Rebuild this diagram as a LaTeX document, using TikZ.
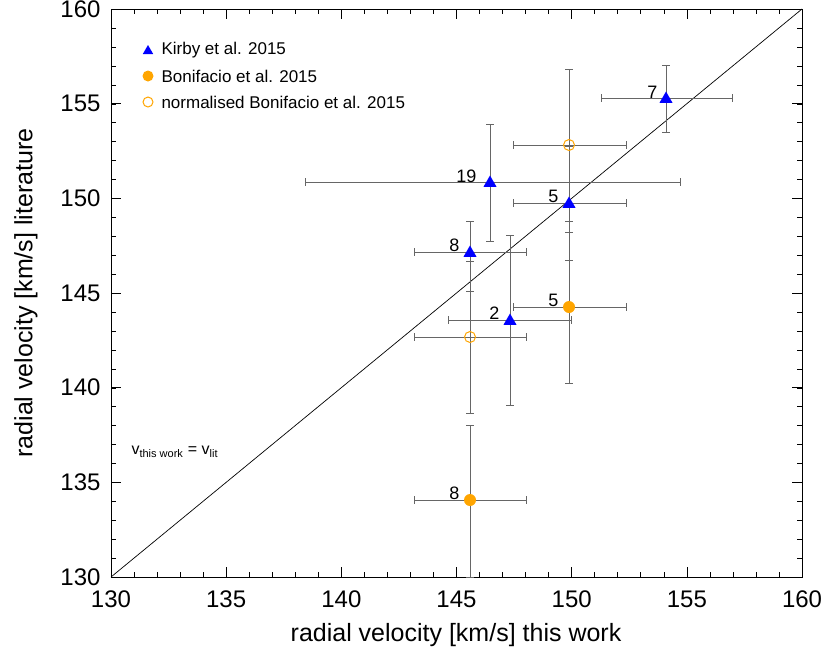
\documentclass[tikz,border=0pt]{standalone}
\usepackage{fontspec}
\setmainfont{Liberation Sans}
\usetikzlibrary{shapes.geometric}
\definecolor{orng}{RGB}{255,165,0}
\begin{document}
\begin{tikzpicture}[x=1pt,y=-1pt,
  eb/.style={draw=gray!80!black,line width=0.6pt},
  tri/.style={regular polygon,regular polygon sides=3,fill=blue,inner sep=0pt,minimum size=15pt},
  fdot/.style={circle,fill=orng,inner sep=0pt,minimum size=12pt},
  odot/.style={circle,draw=orng,line width=1pt,inner sep=0pt,minimum size=11pt},
  lab/.style={font=\fontsize{18}{18}\selectfont,anchor=east},
  tick/.style={font=\fontsize{24}{24}\selectfont}]
\useasboundingbox (0,0) rectangle (830,657);
\draw[line width=0.8pt] (111,9) rectangle (802,577);
% ticks
\foreach \i in {0,...,30}{\pgfmathsetmacro\xx{111+23.03*\i}
  \draw (\xx,577) -- (\xx,572); \draw (\xx,9) -- (\xx,14);
  \pgfmathsetmacro\yy{577-18.93*\i}
  \draw (111,\yy) -- (116,\yy); \draw (802,\yy) -- (797,\yy);}
\foreach \i/\v in {0/130,1/135,2/140,3/145,4/150,5/155,6/160}{
  \pgfmathsetmacro\xx{111+115.17*\i}\pgfmathsetmacro\yy{577-94.67*\i}
  \draw (\xx,577) -- (\xx,567); \draw (\xx,9) -- (\xx,19);
  \draw (111,\yy) -- (121,\yy); \draw (802,\yy) -- (792,\yy);
  \node[tick,anchor=north] at (\xx,587) {\v};
  \node[tick,anchor=east] at (104,\yy) {\v};}
\node[font=\fontsize{25}{25}\selectfont] (xl) at (456,635) {radial velocity [km/s] this work};
\node[font=\fontsize{25}{25}\selectfont,rotate=90] (yl) at (26,293) {radial velocity [km/s] literature};
\draw[line width=0.7pt] (111,577) -- (802,9);
\node[font=\fontsize{16}{16}\selectfont,anchor=west] (eq) at (128,452) {v$_{\mbox{\fontsize{11}{11}\selectfont this work}}$ = v$_{\mbox{\fontsize{11}{11}\selectfont lit}}$};
% error bars: x, y, xl, xr, yt, yb
\foreach \x/\y/\a/\b/\c/\d in {666/98/601/732/65/132, 490/182/305/680/124/241, 569/203/513/626/146/260, 470/252/414/526/221/291, 510/320/448/571/235/405, 569/307/513/626/232/383, 470/500/414/526/425/577, 569/145/513/626/69/221, 470/337/414/526/261/413}{
  \draw[eb] (\a,\y) -- (\b,\y) (\a,\y-4) -- (\a,\y+4) (\b,\y-4) -- (\b,\y+4);
  \draw[eb] (\x,\c) -- (\x,\d) (\x-4,\c) -- (\x+4,\c) (\x-4,\d) -- (\x+4,\d);}
\node[tri] (k7) at (666,99) {};
\node[tri] (k19) at (490,183) {};
\node[tri] (k5) at (569,204) {};
\node[tri] (k8) at (470,253) {};
\node[tri] (k2) at (510,321) {};
\node[fdot] (b5) at (569,307) {};
\node[fdot] (b8) at (470,500) {};
\node[odot] (n1) at (569,145) {};
\node[odot] (n2) at (470,337) {};
\node[lab] at (661,92) {7};
\node[lab] at (480,176) {19};
\node[lab] at (562,196) {5};
\node[lab] at (463,245) {8};
\node[lab] at (503,313) {2};
\node[lab] at (562,300) {5};
\node[lab] at (463,493) {8};
% legend
\node[tri,minimum size=12pt] (l1) at (148,51) {};
\node[fdot,minimum size=11pt] (l2) at (148,76) {};
\node[odot,minimum size=10pt] (l3) at (148,102) {};
\foreach \y/\t in {50/Kirby et al. 2015,76/Bonifacio et al. 2015,102/normalised Bonifacio et al. 2015}
  \node[anchor=west,font=\fontsize{17}{17}\selectfont] at (158,\y) {\t};
\end{tikzpicture}
\end{document}
